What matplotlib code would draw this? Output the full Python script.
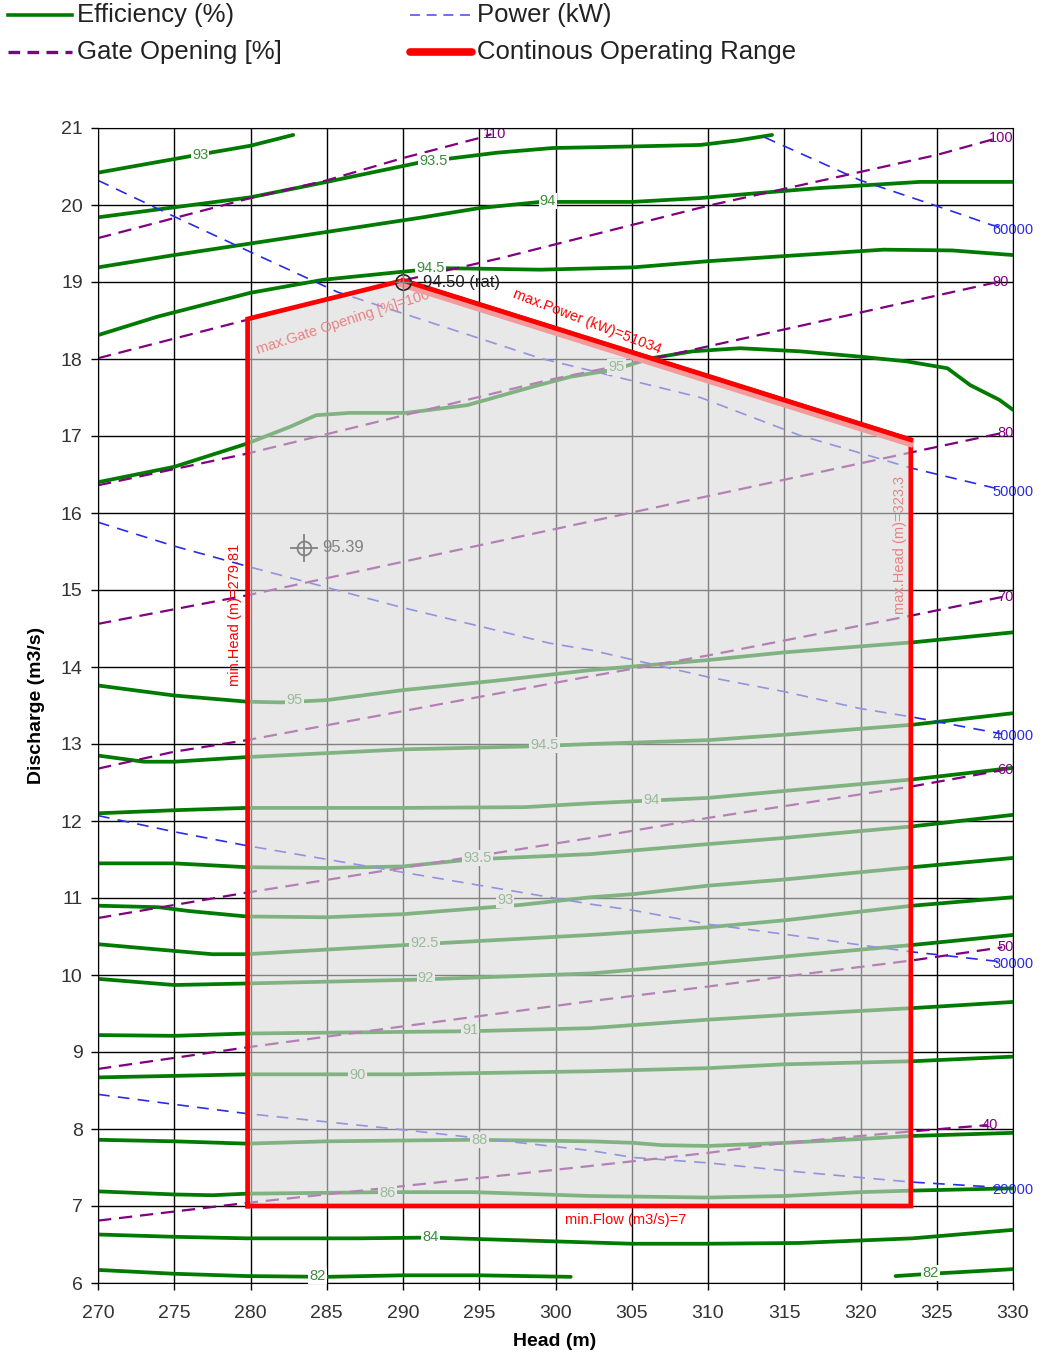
import matplotlib
matplotlib.use("Agg")
import matplotlib.pyplot as plt
import matplotlib.patheffects as pe
from matplotlib.lines import Line2D

# ---- efficiency iso-lines (%): (head m, discharge m3/s)
eff_93_top = [(270, 20.42), (276.5, 20.65), (280, 20.77), (282.8, 20.91)]
eff_935_top = [(270, 19.84), (275, 19.97), (280, 20.10), (285, 20.30), (291.3, 20.56),
               (296.2, 20.68), (299.8, 20.74), (305, 20.76), (309.5, 20.78), (312, 20.84),
               (314.2, 20.91)]
eff_94_top = [(270, 19.19), (275, 19.35), (280, 19.50), (285, 19.65), (291.3, 19.84),
              (295, 19.96), (299, 20.04), (305, 20.04), (309.5, 20.09), (313, 20.15),
              (317.3, 20.22), (323.9, 20.30), (330, 20.30)]
eff_945_top = [(270, 18.31), (273.9, 18.55), (280, 18.86), (284.8, 19.03), (289.8, 19.13),
               (292.4, 19.18), (296, 19.17), (299, 19.16), (305.1, 19.19), (310, 19.27),
               (314.5, 19.33), (321.5, 19.42), (326, 19.41), (330, 19.35)]
eff_95_top = [(270, 16.40), (275, 16.60), (279.75, 16.90), (282.6, 17.12), (284.3, 17.27),
              (286.5, 17.30), (290.2, 17.30), (294.2, 17.40), (298.5, 17.64), (301, 17.77),
              (303.8, 17.86), (306.3, 18.01), (309, 18.10), (312.1, 18.14), (316, 18.10),
              (320, 18.03), (323, 17.97), (325.7, 17.88), (327.2, 17.66), (329.1, 17.47),
              (330, 17.34)]
eff_95_low = [(270, 13.76), (275, 13.63), (279.75, 13.55), (282, 13.54), (285, 13.57),
              (290, 13.70), (296, 13.82), (302.3, 13.96), (310, 14.09), (315, 14.19),
              (323.4, 14.32), (330, 14.45)]
eff_945_low = [(270, 12.85), (273, 12.77), (275, 12.77), (279.75, 12.83), (290, 12.93),
               (298.5, 12.97), (302.3, 13.00), (310, 13.05), (315, 13.12), (323.4, 13.25),
               (330, 13.40)]
eff_94_low = [(270, 12.10), (275, 12.14), (279.75, 12.17), (290, 12.17), (298, 12.18),
              (302.3, 12.23), (310, 12.30), (315, 12.39), (323.4, 12.54), (330, 12.69)]
eff_935_low = [(270, 11.45), (275, 11.45), (279.75, 11.40), (285, 11.39), (290, 11.41),
               (294.4, 11.50), (302.3, 11.57), (310, 11.70), (315, 11.78), (323.4, 11.93),
               (330, 12.08)]
eff_93_low = [(270, 10.90), (274, 10.88), (276, 10.83), (279.75, 10.76), (285, 10.75),
              (290, 10.79), (297.7, 10.91), (302.3, 11.01), (305.1, 11.05), (310, 11.16),
              (315, 11.24), (323.4, 11.40), (330, 11.52)]
eff_925_low = [(270, 10.40), (274, 10.33), (277.5, 10.27), (279.75, 10.27), (291.1, 10.40),
               (302.3, 10.52), (310, 10.62), (315, 10.71), (323.4, 10.90), (330, 11.01)]
eff_92_low = [(270, 9.95), (275, 9.87), (279.75, 9.89), (291, 9.94), (302.3, 10.02),
              (310, 10.15), (315, 10.24), (323.4, 10.39), (330, 10.52)]
eff_91_low = [(270, 9.22), (275, 9.21), (279.75, 9.24), (294.4, 9.27), (302.3, 9.31),
              (310, 9.42), (315, 9.48), (323.4, 9.57), (330, 9.65)]
eff_90_low = [(270, 8.67), (275, 8.69), (279.75, 8.71), (290, 8.71), (302.3, 8.75),
              (310, 8.79), (315, 8.84), (323.4, 8.88), (330, 8.94)]
eff_88_low = [(270, 7.86), (275, 7.84), (279.75, 7.81), (285, 7.84), (294.6, 7.86),
              (302.3, 7.84), (305.1, 7.82), (307, 7.79), (310, 7.78), (315, 7.82),
              (320, 7.87), (323.4, 7.91), (330, 7.95)]
eff_86_low = [(270, 7.19), (275, 7.15), (277.5, 7.14), (279.75, 7.16), (289, 7.18),
              (294.6, 7.18), (302.3, 7.13), (310, 7.11), (315, 7.13), (320, 7.18),
              (323.4, 7.20), (330, 7.23)]
eff_84_low = [(270, 6.63), (275, 6.60), (279.75, 6.58), (287, 6.58), (291.8, 6.59),
              (305, 6.51), (310, 6.51), (316, 6.52), (323.4, 6.58), (330, 6.69)]
eff_82_left = [(270, 6.17), (275, 6.12), (279.75, 6.09), (285, 6.08), (290, 6.10),
               (295, 6.10), (301, 6.08)]
eff_82_right = [(322.3, 6.09), (324.6, 6.12), (330, 6.18)]

eff_label_text = ["93", "93.5", "94", "94.5", "95", "95", "94.5", "94", "93.5", "93",
                  "92.5", "92", "91", "90", "88", "86", "84", "82", "82"]
eff_label_head = [276.7, 292.0, 299.5, 291.8, 304.0, 282.9, 299.3, 306.3, 294.9, 296.7,
                  291.4, 291.5, 294.4, 287.0, 295.0, 289.0, 291.8, 284.4, 324.6]
eff_label_flow = [20.65, 20.57, 20.05, 19.18, 17.90, 13.57, 12.99, 12.27, 11.52, 10.97,
                  10.42, 9.96, 9.29, 8.70, 7.86, 7.17, 6.60, 6.09, 6.13]

# ---- gate opening iso-lines (%)
gate_110 = [(270, 19.57), (275, 19.83), (280, 20.09), (285, 20.32), (290, 20.61),
            (295, 20.87), (295.8, 20.92)]
gate_100 = [(270, 18.01), (280, 18.52), (290, 19.02), (296.4, 19.31), (310, 19.99),
            (325, 20.65), (329, 20.87)]
gate_90 = [(270, 16.36), (279.75, 16.77), (299.6, 17.73), (306.5, 18.01), (329, 19.00)]
gate_80 = [(270, 14.56), (279.75, 14.93), (323.4, 16.79), (329.3, 17.04)]
gate_70 = [(270, 12.68), (275, 12.90), (279.75, 13.05), (302.3, 13.88), (310, 14.15),
           (323.4, 14.67), (329.3, 14.91)]
gate_60 = [(270, 10.74), (279.75, 11.07), (302.3, 11.78), (310, 12.04), (323.4, 12.45),
           (329.3, 12.66)]
gate_50 = [(270, 8.78), (279.75, 9.06), (302.3, 9.66), (310, 9.85), (315, 9.98),
           (323.4, 10.19), (329.3, 10.36)]
gate_40 = [(270, 6.81), (279.75, 7.04), (302.3, 7.52), (310, 7.69), (315, 7.82),
           (323.4, 7.97), (328.3, 8.05)]
gate_labels = ["110", "100", "90", "80", "70", "60", "50", "40"]

# ---- power iso-lines (kW)
power_60000 = [(313.7, 20.88), (320, 20.32), (325.7, 19.94), (328.6, 19.74), (329.5, 19.70)]
power_50000 = [(270, 20.32), (275, 19.85), (280.1, 19.38), (285.7, 18.87), (299, 18.01),
               (309.5, 17.50), (316, 17.01), (323.4, 16.58), (329.3, 16.30)]
power_40000 = [(270, 15.88), (275, 15.57), (279.75, 15.31), (289.8, 14.78), (299.6, 14.31),
               (302.3, 14.22), (310, 13.87), (315, 13.68), (320, 13.46), (323.4, 13.35),
               (329.3, 13.13)]
power_30000 = [(270, 12.07), (275, 11.86), (279.75, 11.68), (289.8, 11.34), (302.3, 10.92),
               (305.1, 10.84), (310, 10.66), (315, 10.53), (320, 10.39), (323.4, 10.30),
               (329.3, 10.17)]
power_20000 = [(270, 8.45), (275, 8.32), (279.75, 8.20), (290, 7.99), (302.3, 7.72),
               (305.1, 7.63), (310, 7.56), (315, 7.46), (320, 7.37), (323.4, 7.31),
               (329.3, 7.24)]
power_labels = ["60000", "50000", "40000", "30000", "20000"]

# ---- continuous operating range
range_head = [279.81, 279.81, 290, 323.3, 323.3, 279.81]
range_flow = [7, 18.52, 19.02, 16.95, 7, 7]
rated_point = (290, 19.0, "94.50 (rat)")
best_point = (283.5, 15.55, "95.39")

x_ticks = list(range(270, 331, 5))
y_ticks = list(range(6, 22))

GREEN, LABEL_GREEN, PURPLE, BLUE, RED = "#007a00", "#3a8c3a", "#800080", "#2b2be6", "#ff0000"
W, H = 1040, 1357


def hq(curve):
    return [p[0] for p in curve], [p[1] for p in curve]


plt.rcParams.update({"font.family": ["Liberation Sans", "DejaVu Sans"]})
fig = plt.figure(figsize=(W / 100, H / 100), dpi=100)
ax = fig.add_axes([98 / W, 1 - 1283 / H, (1013 - 98) / W, (1283 - 128) / H])
ax.set_xlim(270, 330)
ax.set_ylim(6, 21)
ax.set_xticks(x_ticks)
ax.set_yticks(y_ticks)
ax.grid(color="black", lw=1.0, zorder=1)
ax.set_axisbelow(True)
ax.tick_params(direction="out", length=5, width=1, labelsize=14, labelcolor="#333333")
ax.tick_params(axis="x", pad=11)
ax.tick_params(axis="y", pad=6)
for s in ax.spines.values():
    s.set_color("black")

eff_curves = [eff_93_top, eff_935_top, eff_94_top, eff_945_top, eff_95_top, eff_95_low,
              eff_945_low, eff_94_low, eff_935_low, eff_93_low, eff_925_low, eff_92_low,
              eff_91_low, eff_90_low, eff_88_low, eff_86_low, eff_84_low, eff_82_left,
              eff_82_right]
for c in eff_curves:
    ax.plot(*hq(c), color=GREEN, lw=2.7, zorder=2, solid_capstyle="round",
            solid_joinstyle="round")

gate_curves = [gate_110, gate_100, gate_90, gate_80, gate_70, gate_60, gate_50, gate_40]
for c, lab in zip(gate_curves, gate_labels):
    h, q = hq(c)
    ax.plot(h, q, color=PURPLE, lw=1.6, ls=(0, (6, 3.5)), zorder=2.2)
    ax.text(h[-1] + 0.2, q[-1], lab, color=PURPLE, fontsize=10.5, ha="center",
            va="center", zorder=2.3)

power_curves = [power_60000, power_50000, power_40000, power_30000, power_20000]
for c, lab in zip(power_curves, power_labels):
    h, q = hq(c)
    ax.plot(h, q, color=BLUE, lw=1.2, ls=(0, (7, 5)), zorder=2.1)
    ax.text(330, q[-1] - 0.03, lab, color=BLUE, fontsize=10.5, ha="center",
            va="center", zorder=2.3, clip_on=False)

for txt, h, q in zip(eff_label_text, eff_label_head, eff_label_flow):
    ax.text(h, q, txt, color=LABEL_GREEN, fontsize=10.5, ha="center", va="center", zorder=3,
            bbox=dict(boxstyle="square,pad=0.08", fc="white", ec="none"))

# texts and marks that sit under the grey veil of the operating range
ax.plot([best_point[0]], [best_point[1]], marker="o", ms=10, mfc="none", mec="black",
        mew=1.3, zorder=3.5)
ax.plot([best_point[0]], [best_point[1]], marker="+", ms=20, mec="black", mew=1.3, zorder=3.5)
ax.text(best_point[0] + 1.2, best_point[1], best_point[2], fontsize=12, color="black",
        va="center", ha="left", zorder=3.5)
ax.text(286.1, 18.48, "max.Gate Opening [%]=100", color=RED, fontsize=10.5, rotation=18,
        ha="center", va="center", zorder=3.5)
ax.text(322.6, 15.58, "max.Head (m)=323.3", color=RED, fontsize=10.5, rotation=90,
        ha="center", va="center", zorder=3.5)

ax.fill(range_head, range_flow, color="#d9d9d9", alpha=0.6, lw=0, zorder=4)
ax.plot(range_head, range_flow, color=RED, lw=3.4, zorder=6, solid_joinstyle="miter")
ax.plot(range_head[2:4], range_flow[2:4], color=RED, lw=3.4, zorder=6,
        path_effects=[pe.Stroke(linewidth=5, foreground="#f39a9a", offset=(-0.6, -2.6)),
                      pe.Normal()])

ax.plot([rated_point[0]], [rated_point[1]], marker="o", ms=11, mfc="none", mec="#222222",
        mew=1.2, zorder=7)
ax.plot([rated_point[0]], [rated_point[1]], marker="+", ms=11, mec="#888888", mew=1.0, zorder=7)
ax.text(rated_point[0] + 1.3, rated_point[1], rated_point[2], fontsize=12, color="#222222",
        va="center", ha="left", zorder=7)

ax.text(279.0, 14.68, "min.Head (m)=279.81", color=RED, fontsize=10.5, rotation=90,
        ha="center", va="center", zorder=7)
ax.text(302.1, 18.49, "max.Power (kW)=51034", color=RED, fontsize=10.5, rotation=-21,
        ha="center", va="center", zorder=7)
ax.text(304.6, 6.82, "min.Flow (m3/s)=7", color=RED, fontsize=10.5, ha="center",
        va="center", zorder=7)

ax.set_xlabel("Head (m)", fontsize=14, fontweight="bold", va="center")
ax.xaxis.set_label_coords((555 - 98) / 915, (1283 - 1342) / 1155)
ax.set_ylabel("Discharge (m3/s)", fontsize=14, fontweight="bold", va="center")
ax.yaxis.set_label_coords((37 - 98) / 915, (1283 - 705) / 1155)

# legend drawn by hand to keep the two-column layout of the original
legend_items = [
    (8, 72, 15, dict(color=GREEN, lw=2.6), "Efficiency (%)"),
    (8, 72, 52, dict(color=PURPLE, lw=2.4, ls=(0, (3.5, 2.2))), "Gate Opening [%]"),
    (410, 472, 15, dict(color="#5555ee", lw=1.2, ls=(0, (6, 4))), "Power (kW)"),
    (410, 472, 52, dict(color=RED, lw=5.5, solid_capstyle="round"), "Continous Operating Range"),
]
for x0, x1, y, style, label in legend_items:
    fig.add_artist(Line2D([x0 / W, x1 / W], [1 - y / H, 1 - y / H],
                          transform=fig.transFigure, **style))
    fig.text((x1 + 5) / W, 1 - y / H, label, fontsize=18.5, color="#222222",
             ha="left", va="center")

fig.savefig("out.png", dpi=100)
